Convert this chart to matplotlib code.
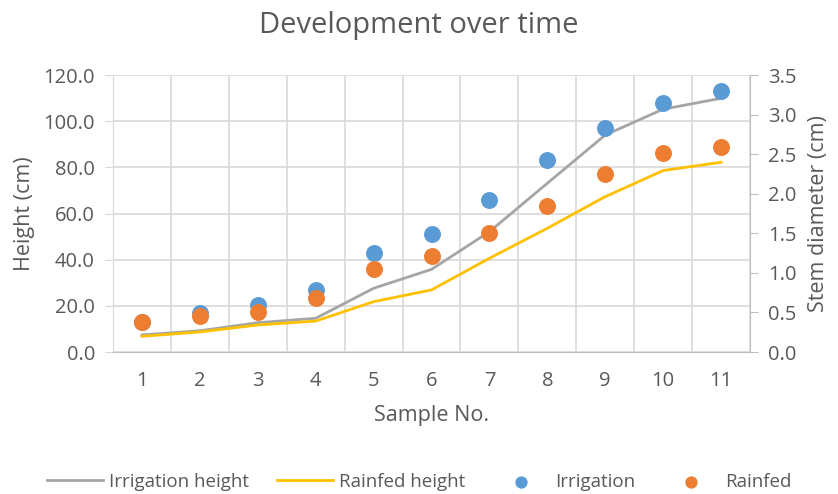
import matplotlib.pyplot as plt

plt.rcParams['font.family'] = ['Open Sans', 'DejaVu Sans']

samples = [1, 2, 3, 4, 5, 6, 7, 8, 9, 10, 11]
irrigation_height = [7.4, 9.2, 12.7, 14.6, 27.6, 35.8, 52.1, 73.1, 94.0, 105.2, 109.9]
rainfed_height = [6.8, 8.7, 11.7, 13.4, 21.8, 26.9, 40.6, 53.6, 67.3, 78.6, 82.2]
irrigation_diam = [0.38, 0.49, 0.59, 0.78, 1.25, 1.49, 1.92, 2.43, 2.83, 3.14, 3.30]
rainfed_diam = [0.38, 0.45, 0.51, 0.68, 1.05, 1.21, 1.50, 1.85, 2.25, 2.51, 2.59]

txt = '#595959'
grid = '#d9d9d9'

fig = plt.figure(figsize=(8.38, 4.94), dpi=100)
ax = fig.add_axes([113 / 838, 1 - 352 / 494, (750 - 113) / 838, (352 - 75) / 494])
ax2 = ax.twinx()

l1, = ax.plot(samples, irrigation_height, color='#a5a5a5', lw=2.0, label='Irrigation height')
l2, = ax.plot(samples, rainfed_height, color='#ffc000', lw=2.0, label='Rainfed height')
s1 = ax2.scatter(samples, irrigation_diam, s=125, color='#5b9bd5', zorder=3, label='Irrigation')
s2 = ax2.scatter(samples, rainfed_diam, s=125, color='#ed7d31', zorder=4, label='Rainfed')

ax.set_xlim(0.5, 11.5)
ax.set_ylim(0, 120)
ax2.set_ylim(0, 3.5)
ax.set_xticks(samples)
ax.set_yticks(range(0, 121, 20))
ax.set_yticklabels([f'{v:.1f}' for v in range(0, 121, 20)])
ax2.set_yticks([i * 0.5 for i in range(8)])
ax2.set_yticklabels([f'{i * 0.5:.1f}' for i in range(8)])

ax.set_xticks([i + 0.5 for i in range(0, 12)], minor=True)
ax.grid(True, which='minor', axis='x', color=grid, lw=1.2)
ax.grid(True, which='major', axis='y', color=grid, lw=1.2)
ax.set_axisbelow(True)

for a in (ax, ax2):
    for sp in a.spines.values():
        sp.set_visible(False)
    a.tick_params(which='both', colors=txt, labelsize=14.5, length=0)
ax.spines['bottom'].set_visible(True)
ax.spines['bottom'].set_color('#bfbfbf')
ax.spines['left'].set_visible(True)
ax.spines['left'].set_color(grid)
ax.tick_params(axis='x', pad=14)
ax2.spines['right'].set_visible(True)
ax2.spines['right'].set_color('#bfbfbf')
ax2.tick_params(axis='y', length=6, color='#bfbfbf', pad=7)
ax.tick_params(axis='y', length=6, color=grid, pad=7)

ax.set_xlabel('Sample No.', color=txt, fontsize=15.5, labelpad=10)
ax.set_ylabel('Height (cm)', color=txt, fontsize=15.5, labelpad=6)
ax2.set_ylabel('Stem diameter (cm)', color=txt, fontsize=15.5, labelpad=8)
fig.text(0.5, 1 - 25 / 494, 'Development over time', ha='center', va='center', color=txt, fontsize=21)

fig.legend(handles=[l1, l2, s1, s2], loc='center', bbox_to_anchor=(0.5, 1 - 482 / 494),
           ncol=4, frameon=False, fontsize=13.5, labelcolor=txt, columnspacing=1.5,
           handlelength=3.0, handletextpad=0.3, markerscale=0.7)

fig.savefig('out.png', dpi=100)
